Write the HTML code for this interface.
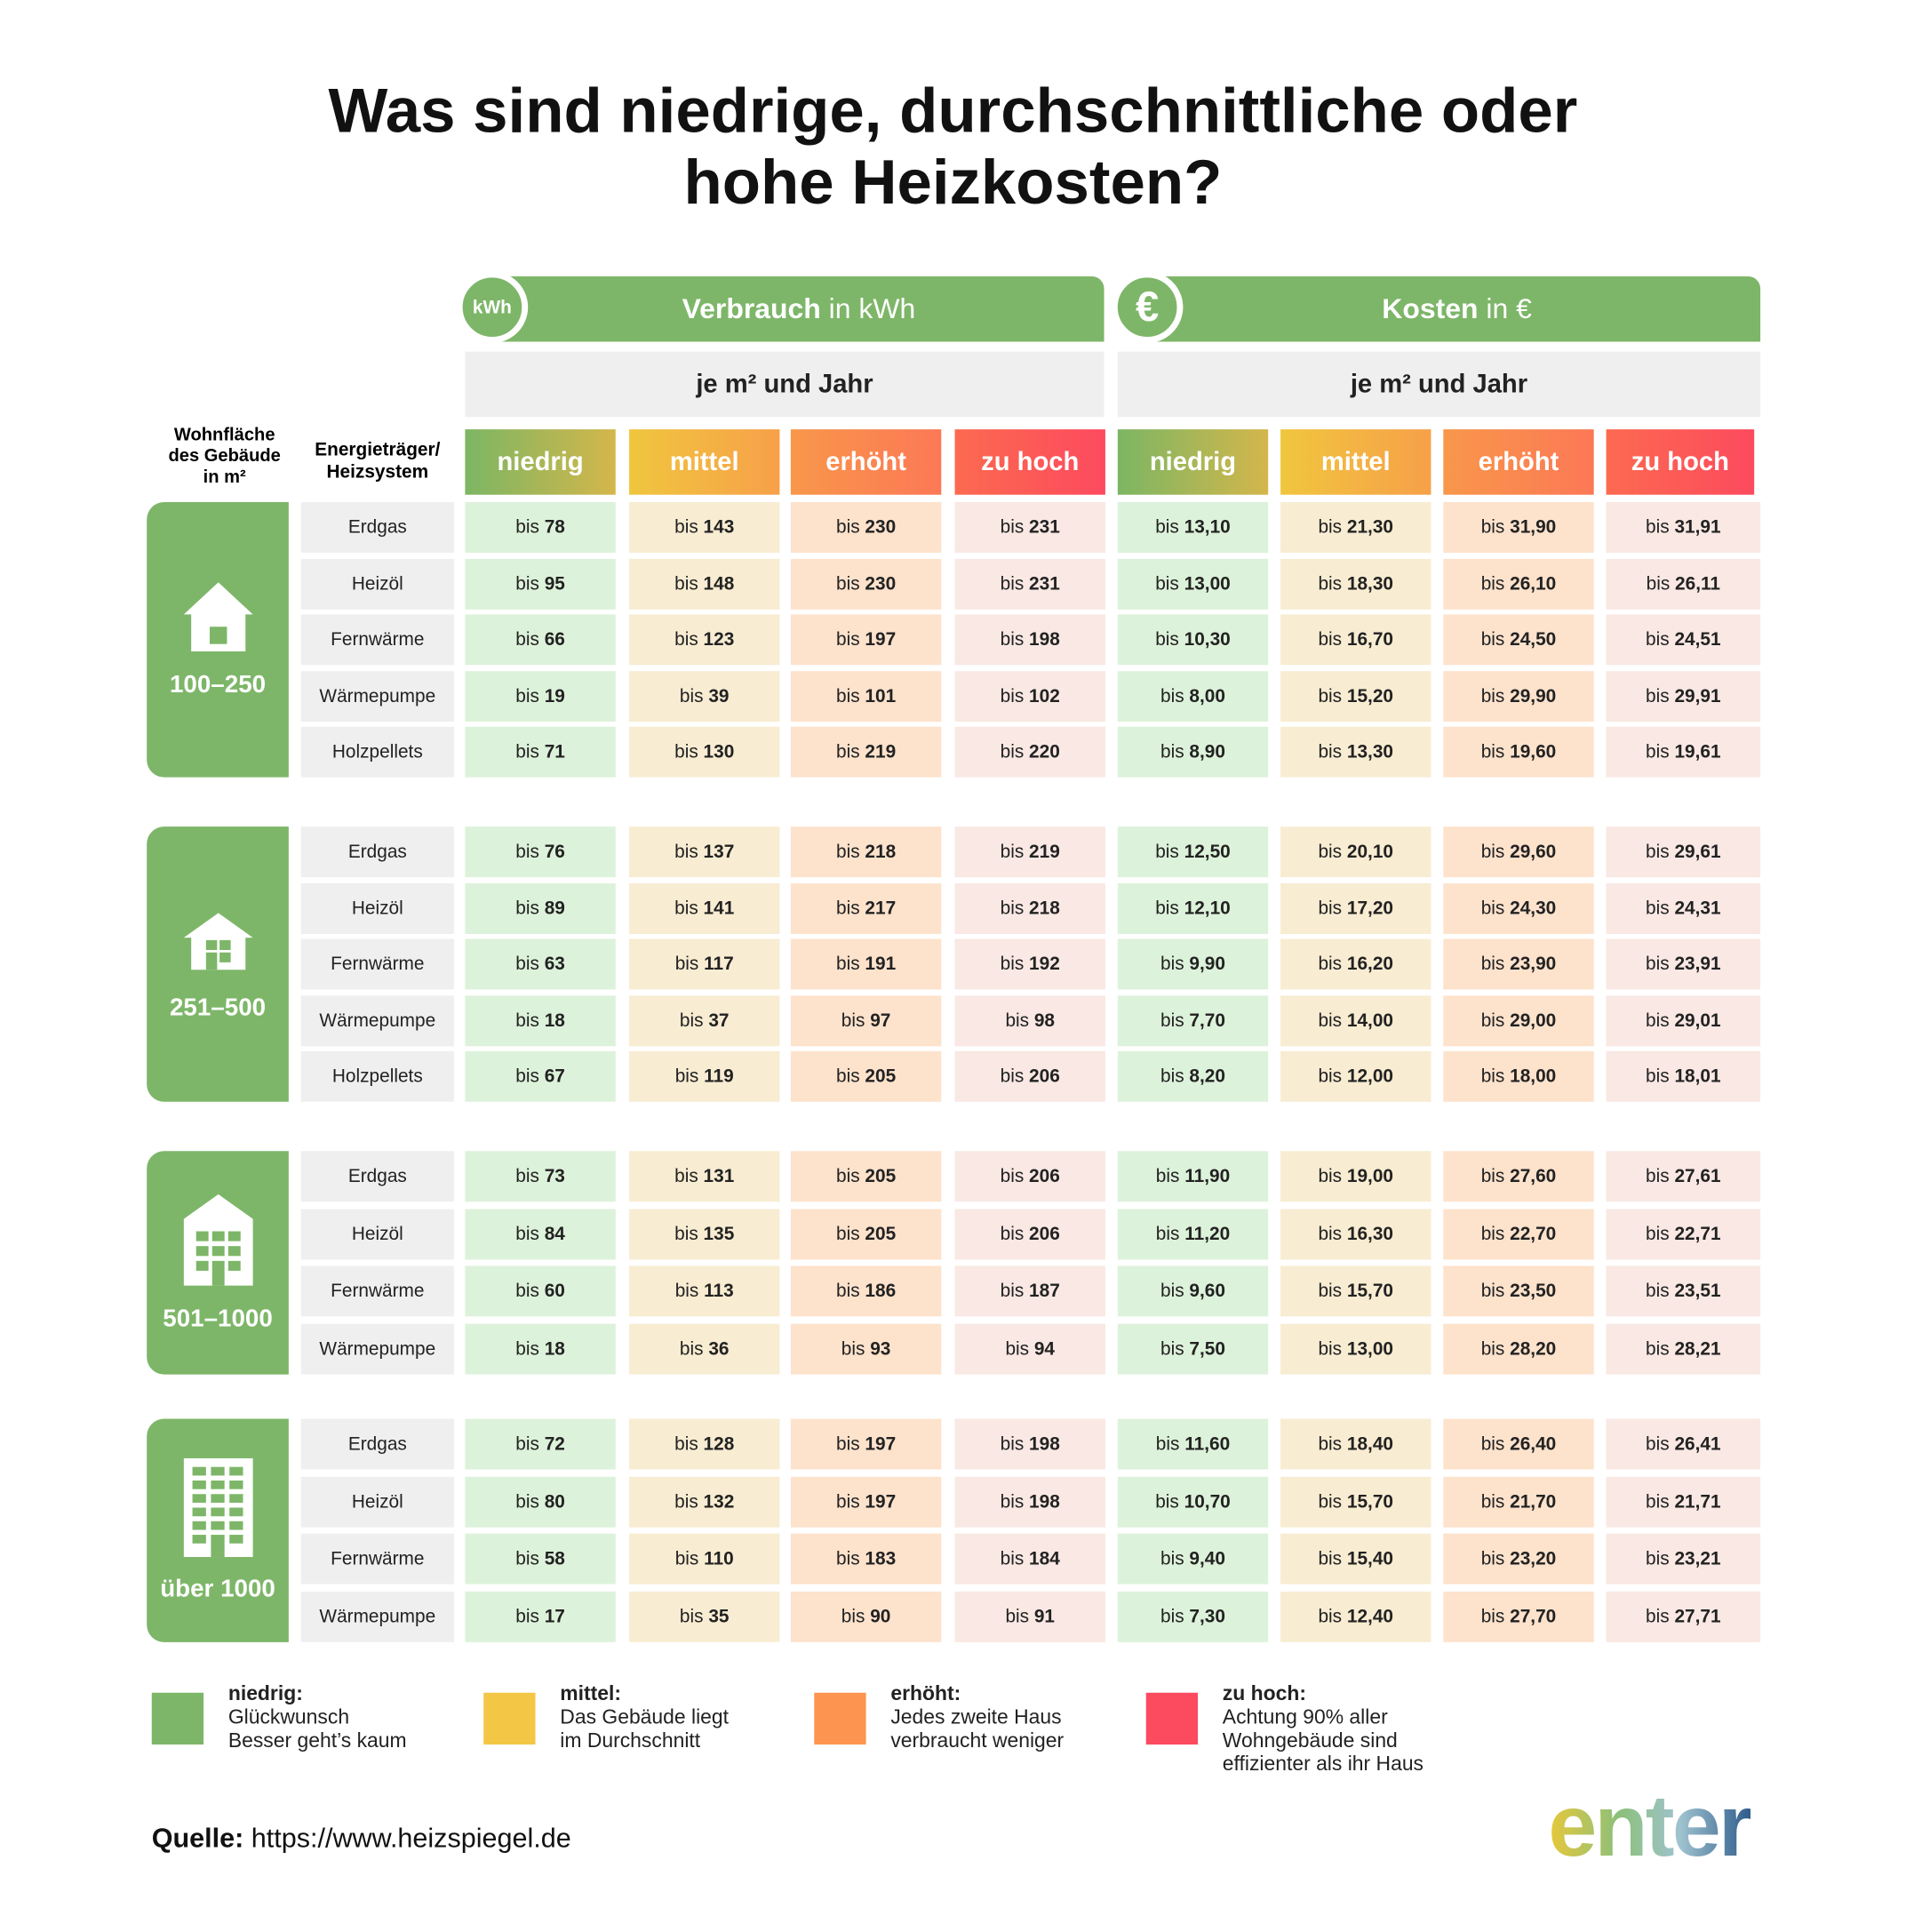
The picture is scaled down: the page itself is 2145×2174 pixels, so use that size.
<!DOCTYPE html>
<html><head><meta charset="utf-8">
<style>
html,body{margin:0;padding:0;background:#fff;}
body{width:2145px;height:2174px;overflow:hidden;font-family:"Liberation Sans",sans-serif;}
#w{position:absolute;left:0;top:0;width:1545px;height:1566px;transform:scale(1.3883);transform-origin:0 0;}
.a{position:absolute;box-sizing:border-box;}
.c{display:flex;align-items:center;justify-content:center;text-align:center;}
.t{font-weight:bold;font-size:51px;color:#111;width:1545px;left:0;text-align:center;}
.hdr{background:#7db668;color:#fff;font-size:23px;border-radius:0 10px 0 0;}
.circ{width:58px;height:58px;border-radius:50%;background:#7db668;border:5px solid #fff;color:#fff;font-weight:bold;}
.sub{background:#efefef;font-size:21px;font-weight:bold;color:#222;}
.cat{color:#fff;font-size:21px;font-weight:bold;}
.cell{font-size:15px;color:#222;}
.lab{background:#efefef;font-size:15px;color:#222;}
.size{background:#7db668;border-radius:14px 0 0 14px;color:#fff;font-weight:bold;font-size:20px;flex-direction:column;}
.leg{font-size:16.5px;color:#222;line-height:19px;}
</style></head><body>
<div id="w">
<div class="a t" style="top:60px">Was sind niedrige, durchschnittliche oder</div>
<div class="a t" style="top:118px">hohe Heizkosten?</div>

<div class="a hdr c" style="left:400px;top:224px;width:495px;height:53px"><span><b>Verbrauch</b> in kWh</span></div>
<div class="a circ c" style="left:370px;top:220px;font-size:15px">kWh</div>
<div class="a hdr c" style="left:935px;top:224px;width:492px;height:53px"><span><b>Kosten</b> in €</span></div>
<div class="a circ c" style="left:901px;top:220px;font-size:34px">€</div>

<div class="a sub c" style="left:377px;top:285px;width:518px;height:53px">je m² und Jahr</div>
<div class="a sub c" style="left:906px;top:285px;width:521px;height:53px">je m² und Jahr</div>

<div class="a c" style="left:122px;top:342px;width:120px;height:56px;font-size:14.5px;font-weight:bold;line-height:17px">Wohnfläche<br>des Gebäude<br>in m²</div>
<div class="a c" style="left:244px;top:352px;width:124px;height:44px;font-size:15px;font-weight:bold;line-height:18px">Energieträger/<br>Heizsystem</div>

<div class="a" style="left:123px;top:1372px;width:42px;height:42px;background:#7db668"></div>
<div class="a leg" style="left:185px;top:1364px"><b>niedrig:</b><br>Glückwunsch<br>Besser geht’s kaum</div>
<div class="a" style="left:392px;top:1372px;width:42px;height:42px;background:#f4c646"></div>
<div class="a leg" style="left:454px;top:1364px"><b>mittel:</b><br>Das Gebäude liegt<br>im Durchschnitt</div>
<div class="a" style="left:660px;top:1372px;width:42px;height:42px;background:#fd9450"></div>
<div class="a leg" style="left:722px;top:1364px"><b>erhöht:</b><br>Jedes zweite Haus<br>verbraucht weniger</div>
<div class="a" style="left:929px;top:1372px;width:42px;height:42px;background:#fc4a5f"></div>
<div class="a leg" style="left:991px;top:1364px"><b>zu hoch:</b><br>Achtung 90% aller<br>Wohngebäude sind<br>effizienter als ihr Haus</div>

<div class="a" style="left:123px;top:1477px;font-size:22px;color:#111"><b>Quelle:</b> https://www.heizspiegel.de</div>
<div class="a" style="left:1255px;top:1440px;font-size:71px;font-weight:bold;letter-spacing:-2px;background:linear-gradient(90deg,#e8c83a,#8cc07a 35%,#9fc3cf 65%,#2f5c8c);-webkit-background-clip:text;background-clip:text;color:transparent">enter</div>
</div>
<script>
const categories=["niedrig","mittel","erhöht","zu hoch"];
const sizes=["100–250","251–500","501–1000","über 1000"];
const systems=[["Erdgas","Heizöl","Fernwärme","Wärmepumpe","Holzpellets"],["Erdgas","Heizöl","Fernwärme","Wärmepumpe","Holzpellets"],["Erdgas","Heizöl","Fernwärme","Wärmepumpe"],["Erdgas","Heizöl","Fernwärme","Wärmepumpe"]];
const kwh=[[[78,143,230,231],[95,148,230,231],[66,123,197,198],[19,39,101,102],[71,130,219,220]],
[[76,137,218,219],[89,141,217,218],[63,117,191,192],[18,37,97,98],[67,119,205,206]],
[[73,131,205,206],[84,135,205,206],[60,113,186,187],[18,36,93,94]],
[[72,128,197,198],[80,132,197,198],[58,110,183,184],[17,35,90,91]]];
const euro=[[["13,10","21,30","31,90","31,91"],["13,00","18,30","26,10","26,11"],["10,30","16,70","24,50","24,51"],["8,00","15,20","29,90","29,91"],["8,90","13,30","19,60","19,61"]],
[["12,50","20,10","29,60","29,61"],["12,10","17,20","24,30","24,31"],["9,90","16,20","23,90","23,91"],["7,70","14,00","29,00","29,01"],["8,20","12,00","18,00","18,01"]],
[["11,90","19,00","27,60","27,61"],["11,20","16,30","22,70","22,71"],["9,60","15,70","23,50","23,51"],["7,50","13,00","28,20","28,21"]],
[["11,60","18,40","26,40","26,41"],["10,70","15,70","21,70","21,71"],["9,40","15,40","23,20","23,21"],["7,30","12,40","27,70","27,71"]]];
const W=document.getElementById('w');
const colX=[377,510,641,774,906,1038,1170,1302],colW=122;
const grads=["linear-gradient(90deg,#7cb663,#d4b64b)","linear-gradient(90deg,#f0c63e,#f7a049)","linear-gradient(90deg,#f8974a,#fc7856)","linear-gradient(90deg,#fc6a50,#fc4a5e)"];
const fills=["#ddf2da","#f8ecd2","#fde2cc","#f9e8e3"];
const groupTop=[407,670,933,1150],rowStep=[45.5,45.5,46.5,46.5];
const icons=[
'<svg width="60" height="60" viewBox="0 0 60 60"><path d="M30 2 L58 28 H52 V58 H8 V28 H2 Z" fill="#fff"/><rect x="23" y="38" width="14" height="14" fill="#7db668"/></svg>',
'<svg width="60" height="58" viewBox="0 0 60 50"><path d="M30 2 L58 22 H52 V48 H8 V22 H2 Z" fill="#fff"/><rect x="20" y="24" width="9" height="8" fill="#7db668"/><rect x="31" y="24" width="9" height="8" fill="#7db668"/><rect x="20" y="34" width="9" height="14" fill="#7db668"/><rect x="31" y="34" width="9" height="8" fill="#7db668"/></svg>',
'<svg width="60" height="78" viewBox="0 0 60 78"><path d="M30 2 L58 22 V76 H2 V22 Z" fill="#fff"/><g fill="#7db668"><rect x="12" y="32" width="10" height="8"/><rect x="25" y="32" width="10" height="8"/><rect x="38" y="32" width="10" height="8"/><rect x="12" y="44" width="10" height="8"/><rect x="25" y="44" width="10" height="8"/><rect x="38" y="44" width="10" height="8"/><rect x="12" y="56" width="10" height="8"/><rect x="25" y="56" width="10" height="20"/><rect x="38" y="56" width="10" height="8"/></g></svg>',
'<svg width="58" height="82" viewBox="0 0 58 82"><rect x="1" y="1" width="56" height="80" fill="#fff"/><g fill="#7db668"><rect x="8" y="8" width="11" height="7"/><rect x="23" y="8" width="11" height="7"/><rect x="38" y="8" width="11" height="7"/><rect x="8" y="19" width="11" height="7"/><rect x="23" y="19" width="11" height="7"/><rect x="38" y="19" width="11" height="7"/><rect x="8" y="30" width="11" height="7"/><rect x="23" y="30" width="11" height="7"/><rect x="38" y="30" width="11" height="7"/><rect x="8" y="41" width="11" height="7"/><rect x="23" y="41" width="11" height="7"/><rect x="38" y="41" width="11" height="7"/><rect x="8" y="52" width="11" height="7"/><rect x="23" y="52" width="11" height="7"/><rect x="38" y="52" width="11" height="7"/><rect x="8" y="63" width="11" height="7"/><rect x="23" y="63" width="11" height="18"/><rect x="38" y="63" width="11" height="7"/></g></svg>'];
function box(x,y,w,h,cls,html,style){const d=document.createElement('div');d.className='a c '+cls;d.style.left=x+'px';d.style.top=y+'px';d.style.width=w+'px';d.style.height=h+'px';if(style)d.style.background=style;d.innerHTML=html;W.appendChild(d);return d;}
for(let i=0;i<8;i++){
  const el=box(colX[i],348,i==7?120:colW,53,'cat',categories[i%4],grads[i%4]);
  
  
}
for(let g=0;g<sizes.length;g++){
  const n=systems[g].length,top=groupTop[g],st=rowStep[g],h=41;
  const bottom=top+(n-1)*st+h;
  const s=box(119,top,115,bottom-top,'size',icons[g]+'<div style="margin-top:14px">'+sizes[g]+'</div>');
  
  
  for(let r=0;r<n;r++){
    const y=top+r*st;
    const l=box(244,y,124,h,'lab',systems[g][r]);
    
    
    for(let k=0;k<8;k++){
      const v=k<4?kwh[g][r][k]:euro[g][r][k-4];
      const c=box(colX[k],y,k==7?125:colW,h,'cell','<span>bis <b>'+v+'</b></span>',fills[k%4]);
      
      
    }
  }
}
</script>
</body></html>
